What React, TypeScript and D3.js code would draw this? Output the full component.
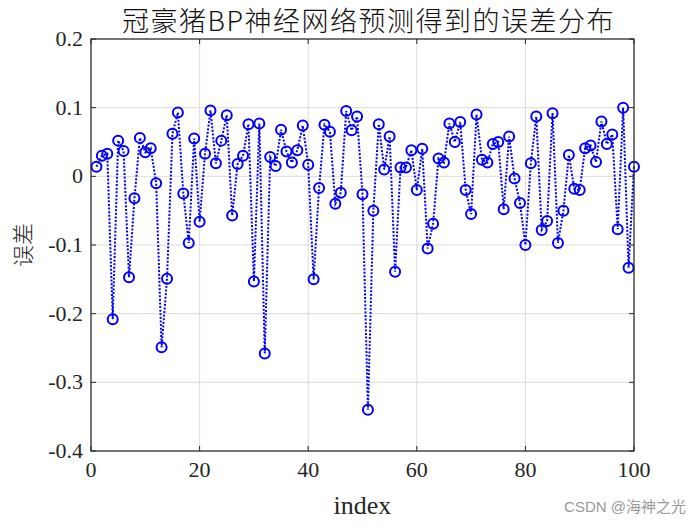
import React from "react";
import * as d3 from "d3";

const errors: number[] = [
  0.014, 0.03, 0.033, -0.208, 0.052, 0.037, -0.147, -0.032, 0.056, 0.035,
  0.041, -0.01, -0.249, -0.149, 0.062, 0.093, -0.025, -0.097, 0.055, -0.066,
  0.033, 0.096, 0.019, 0.052, 0.089, -0.057, 0.018, 0.03, 0.076, -0.153,
  0.077, -0.258, 0.028, 0.015, 0.068, 0.036, 0.02, 0.038, 0.074, 0.017,
  -0.15, -0.017, 0.075, 0.065, -0.04, -0.024, 0.095, 0.067, 0.087, -0.026,
  -0.34, -0.05, 0.076, 0.01, 0.058, -0.139, 0.013, 0.013, 0.038, -0.02,
  0.04, -0.105, -0.069, 0.026, 0.02, 0.077, 0.05, 0.079, -0.02, -0.055,
  0.09, 0.024, 0.02, 0.047, 0.05, -0.048, 0.058, -0.003, -0.039, -0.1,
  0.019, 0.087, -0.078, -0.065, 0.092, -0.097, -0.05, 0.031, -0.018, -0.02,
  0.041, 0.045, 0.021, 0.08, 0.047, 0.061, -0.077, 0.1, -0.133, 0.014,
];
const xTicks: number[] = [0, 20, 40, 60, 80, 100];
const yTicks: number[] = [-0.4, -0.3, -0.2, -0.1, 0, 0.1, 0.2];
const title = "冠豪猪BP神经网络预测得到的误差分布";
const xLabel = "index";
const yLabel = "误差";
const watermark = "CSDN @海神之光";

const W = 700;
const H = 525;
const L = 91, R = 634, T = 39, B = 451;

export default function App() {
  const x = d3.scaleLinear().domain([0, 100]).range([L, R]);
  const y = d3.scaleLinear().domain([-0.4, 0.2]).range([B, T]);
  const pts = errors.map((v, i) => [x(i + 1), y(v)] as [number, number]);
  const line = d3.line<[number, number]>().x((d) => d[0]).y((d) => d[1]);
  const tickFont = "'Liberation Serif','Times New Roman',serif";
  const fmtY = (v: number) => (v === 0 ? "0" : v.toFixed(1));
  return (
    <svg
      width={W}
      height={H}
      style={{ position: "absolute", left: 0, top: 0, background: "#fff" }}
    >
      <rect x={0} y={0} width={W} height={H} fill="#fff" />
      {xTicks.map((t) => (
        <line key={"gx" + t} x1={x(t)} x2={x(t)} y1={T} y2={B} stroke="#dcdcdc" strokeWidth={1} />
      ))}
      {yTicks.map((t) => (
        <line key={"gy" + t} x1={L} x2={R} y1={y(t)} y2={y(t)} stroke="#dcdcdc" strokeWidth={1} />
      ))}
      <path
        d={line(pts) || ""}
        fill="none"
        stroke="#0000ff"
        strokeWidth={2}
        strokeDasharray="2,1.6"
      />
      {pts.map((p, i) => (
        <circle key={i} cx={p[0]} cy={p[1]} r={5} fill="none" stroke="#0000ff" strokeWidth={2} />
      ))}
      <rect x={L} y={T} width={R - L} height={B - T} fill="none" stroke="#262626" strokeWidth={1.2} />
      {xTicks.map((t) => (
        <g key={"tx" + t}>
          <line x1={x(t)} x2={x(t)} y1={B} y2={B - 5} stroke="#262626" />
          <line x1={x(t)} x2={x(t)} y1={T} y2={T + 5} stroke="#262626" />
          <text
            x={x(t)}
            y={B + 26}
            textAnchor="middle"
            fontFamily={tickFont}
            fontSize={22}
            fill="#262626"
          >
            {t}
          </text>
        </g>
      ))}
      {yTicks.map((t) => (
        <g key={"ty" + t}>
          <line x1={L} x2={L + 5} y1={y(t)} y2={y(t)} stroke="#262626" />
          <line x1={R} x2={R - 5} y1={y(t)} y2={y(t)} stroke="#262626" />
          <text
            x={L - 8}
            y={y(t) + 7}
            textAnchor="end"
            fontFamily={tickFont}
            fontSize={22}
            fill="#262626"
          >
            {fmtY(t)}
          </text>
        </g>
      ))}
      <text
        x={(L + R) / 2 + 6}
        y={31}
        textAnchor="middle"
        fontFamily="'Noto Sans CJK SC','Liberation Sans',sans-serif"
        fontSize={27}
        fontWeight={300}
        letterSpacing={1.5}
        fill="#111"
      >
        {title}
      </text>
      <text
        x={(L + R) / 2}
        y={514}
        textAnchor="middle"
        fontFamily={tickFont}
        fontSize={26}
        fill="#262626"
      >
        {xLabel}
      </text>
      <text
        transform={`translate(31,${(T + B) / 2}) rotate(-90)`}
        textAnchor="middle"
        fontFamily="'Noto Sans CJK SC',serif"
        fontSize={22}
        fontWeight={300}
        fill="#262626"
      >
        {yLabel}
      </text>
      <text
        x={686}
        y={512}
        textAnchor="end"
        fontFamily="'Liberation Sans','Noto Sans CJK SC',sans-serif"
        fontSize={15}
        fill="#999"
      >
        {watermark}
      </text>
    </svg>
  );
}
